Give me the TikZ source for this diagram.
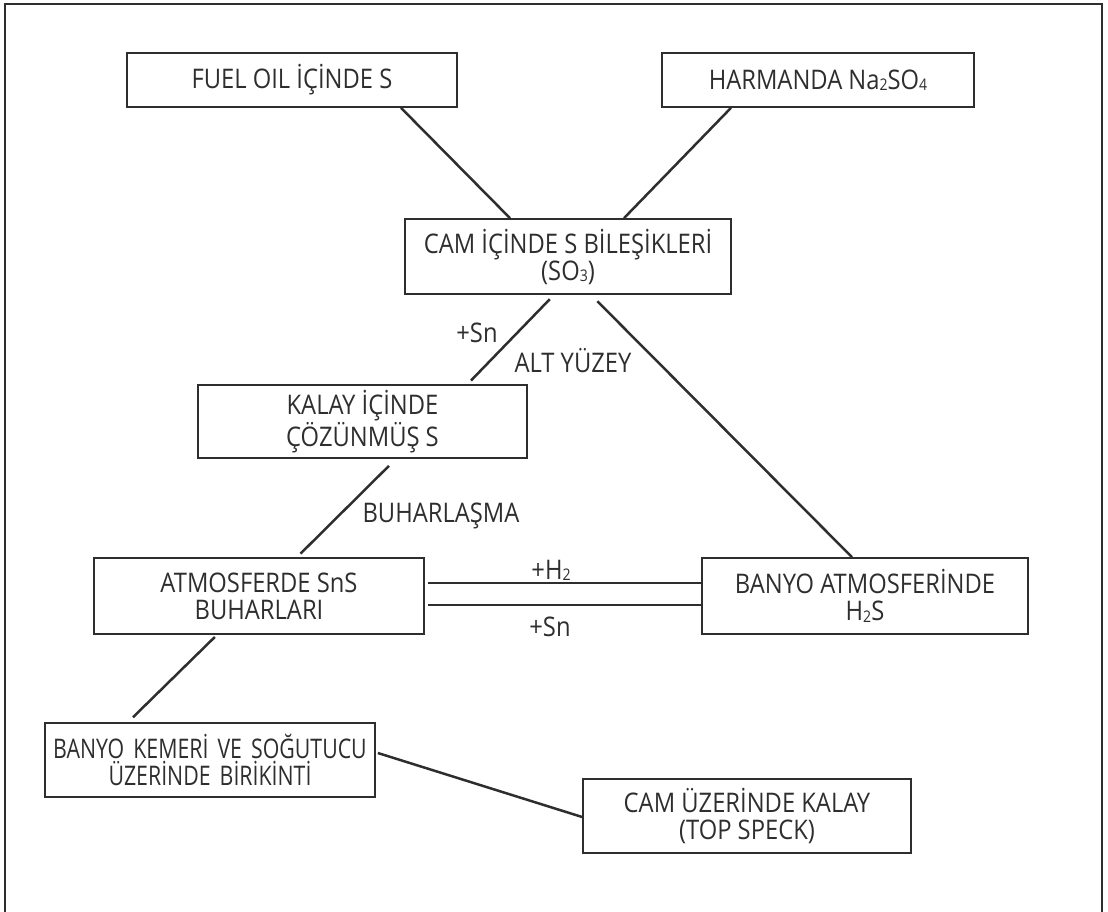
\documentclass[tikz,border=0pt]{standalone}
\usepackage{fontspec}
\setmainfont{Open Sans}[FakeStretch=0.88]
\newfontfamily\narrowfont{Open Sans}[FakeStretch=0.79]
\usetikzlibrary{calc}
\definecolor{ink}{HTML}{2E2E2E}
\newcommand{\lowdigit}[1]{\raisebox{-1.5pt}{\fontsize{16}{16}\selectfont #1}}
\begin{document}
\begin{tikzpicture}[x=1pt,y=-1pt,
  box/.style={draw=ink, line width=1.7pt, align=center, inner sep=0pt, text=ink,
    font=\fontsize{27}{27}\selectfont},
  conn/.style={draw=ink, line width=2.5pt},
  lbl/.style={font=\fontsize{27}{27}\selectfont, text=ink, inner sep=0pt, anchor=base}]
\useasboundingbox (0,0) rectangle (1108,912);
\draw[ink, line width=2pt] (5,915) -- (5,4) -- (1102,4) -- (1102,915);

\node[box, minimum width=330pt, minimum height=54pt] (fuel) at (292,80) {FUEL OIL İÇİNDE S};
\node[box, minimum width=312pt, minimum height=54pt] (harm) at (818,80) {HARMANDA Na\lowdigit{2}SO\lowdigit{4}};
\node[box, minimum width=326pt, minimum height=75pt] (cam) at (568,256.5) {CAM İÇİNDE S BİLEŞİKLERİ\\(SO\lowdigit{3})};
\node[box, minimum width=329pt, minimum height=73pt] (kalay) at (362.5,421.5) {KALAY İÇİNDE\\ÇÖZÜNMÜŞ S};
\node[box, minimum width=330pt, minimum height=76pt] (atm) at (259,596) {ATMOSFERDE SnS\\BUHARLARI};
\node[box, minimum width=326pt, minimum height=76pt] (banyo) at (865,596) {BANYO ATMOSFERİNDE\\H\lowdigit{2}S};
\node[box, text width=330pt, minimum height=74pt, font=\narrowfont\fontsize{27}{27}\selectfont] (kemer) at (210,760) {BANYO KEMERİ VE SOĞUTUCU\\ÜZERİNDE BİRİKİNTİ};
\node[box, minimum width=328pt, minimum height=74pt] (camu) at (747,816) {CAM ÜZERİNDE KALAY\\(TOP SPECK)};

\draw[conn] ([xshift=109pt]fuel.south) -- ([xshift=-58pt]cam.north);
\draw[conn] ([xshift=-87pt]harm.south) -- ([xshift=56pt]cam.north);
\draw[conn, shorten <=6pt, shorten >=5pt] ([xshift=-14pt]cam.south) -- ([xshift=105pt]kalay.north);
\draw[conn, shorten <=9pt] ([xshift=23pt]cam.south) -- ([xshift=-13pt]banyo.north);
\draw[conn, shorten <=10pt, shorten >=5pt] ([xshift=33.5pt]kalay.south) -- ([xshift=38pt]atm.north);
\draw[conn] ([yshift=13pt,xshift=3pt]atm.east) -- ([yshift=13pt]banyo.west);
\draw[conn] ([yshift=-9pt,xshift=3pt]atm.east) -- ([yshift=-9pt]banyo.west);
\draw[conn, shorten <=3pt, shorten >=7pt] ([xshift=-42pt]atm.south) -- ([xshift=-82pt]kemer.north);
\draw[conn] ([yshift=7pt,xshift=2pt]kemer.east) -- ([yshift=-1pt]camu.west);

\node[lbl] (l1) at (477,342) {+Sn};
\node[lbl] (l2) at (573,372) {ALT YÜZEY};
\node[lbl] (l3) at (441,522) {BUHARLAŞMA};
\node[lbl] (l4) at (551,579) {+H\lowdigit{2}};
\node[lbl] (l5) at (550,636) {+Sn};
\end{tikzpicture}
\end{document}
